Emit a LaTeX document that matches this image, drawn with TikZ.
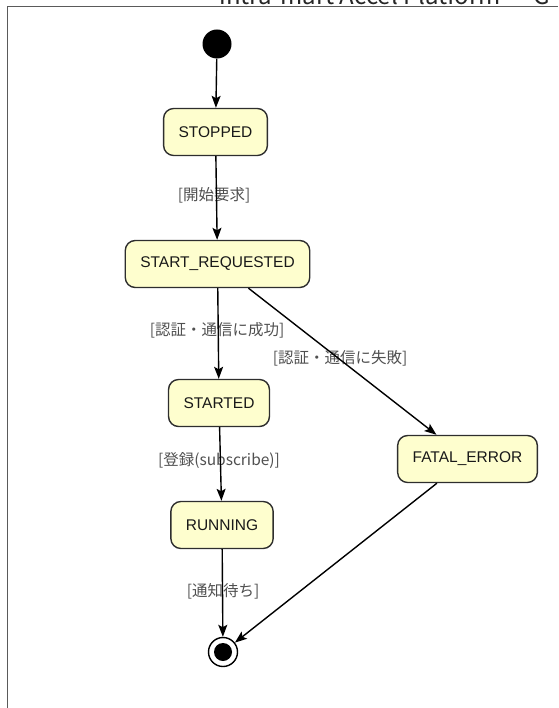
\documentclass[tikz,border=0pt]{standalone}
\usepackage{fontspec}
\usepackage{tikz}
\usetikzlibrary{arrows.meta}
\setmainfont{Liberation Sans}
\newfontfamily\jpfont{Noto Sans CJK JP}
\definecolor{statefill}{HTML}{FEFECE}
\definecolor{stateline}{HTML}{2E2E2E}
\definecolor{guardtext}{HTML}{505050}
\definecolor{framegray}{HTML}{5A5A5A}

\begin{document}
\begin{tikzpicture}[x=1pt, y=-1pt,
  statebox/.style={rectangle, rounded corners=10pt, draw=stateline, fill=statefill,
                   line width=1.4pt, inner xsep=15pt, minimum height=47pt,
                   text=black!90, font=\fontsize{15.5}{18}\selectfont},
  guard/.style={inner sep=1pt, text=guardtext, font=\jpfont\fontsize{15.5}{18}\selectfont},
  startdot/.style={circle, fill=black, minimum size=29pt, inner sep=0pt},
  enddot/.style={circle, draw=black, line width=1.4pt, minimum size=29pt, inner sep=0pt,
                 path picture={\fill[black] (path picture bounding box.center) circle (9pt);}},
  flow/.style={-{Stealth[length=12pt, width=9pt, inset=2.5pt]}, line width=1.4pt},
]
  \useasboundingbox (0,0) rectangle (558,708);
  \node[anchor=base west, text=black!85, font=\jpfont\fontsize{24}{28}\selectfont] (title) at (216,5) {intra-mart Accel Platform — G};
  \draw[framegray, line width=1.5pt] (7.5,708) -- (7.5,6.5) -- (558,6.5);

  \node[startdot] (init) at (217,44) {};
  \node[statebox] (stopped)  at (215.5,132) {STOPPED};
  \node[statebox] (startreq) at (217.5,264) {START\_REQUESTED};
  \node[statebox] (started)  at (219,403)   {STARTED};
  \node[statebox] (fatal)    at (467.5,459) {FATAL\_ERROR};
  \node[statebox] (running)  at (222,525)   {RUNNING};
  \node[enddot] (final) at (223,652) {};

  \node[guard] (g1) at (214,195) {[開始要求]};
  \node[guard] (g2) at (217,330) {[認証・通信に成功]};
  \node[guard] (g3) at (340,358) {[認証・通信に失敗]};
  \node[guard] (g4) at (219,461) {[登録(subscribe)]};
  \node[guard] (g5) at (223,591) {[通知待ち]};

  \draw[flow] (init) -- (stopped);
  \draw[flow] (stopped) -- (startreq);
  \draw[flow] (startreq) -- (started);
  \draw[flow] (startreq) -- (fatal);
  \draw[flow] (started) -- (running);
  \draw[flow] (running) -- (final);
  \draw[flow] (fatal) -- (final);
\end{tikzpicture}
\end{document}
